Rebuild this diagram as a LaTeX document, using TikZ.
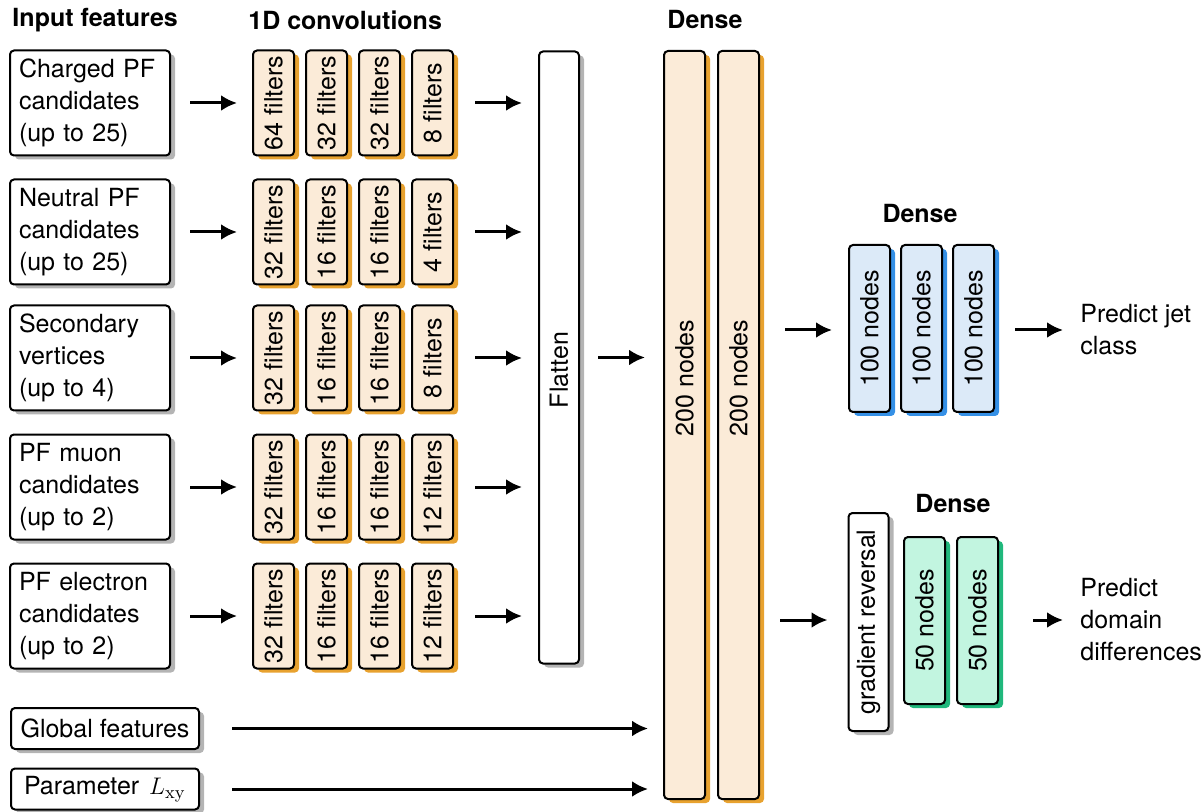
\documentclass[tikz,border=0pt]{standalone}
\usepackage[no-math]{fontspec}
\setmainfont{TeX Gyre Heros}
\usepackage{graphicx}
\usetikzlibrary{arrows.meta, positioning, shadows}

\definecolor{filtfill}{HTML}{FBEBD8}
\definecolor{filtshade}{HTML}{E8A22F}
\definecolor{bluefill}{HTML}{DCEAF8}
\definecolor{blueshade}{HTML}{3590E6}
\definecolor{greenfill}{HTML}{C2F5E0}
\definecolor{greenshade}{HTML}{20B87C}
\definecolor{grayshade}{HTML}{B4B4B4}

\begin{document}
\begin{tikzpicture}[
    x=0.5pt, y=-0.5pt,
    every node/.style={font=\fontsize{12.5}{16}\selectfont},
    box/.style={rectangle, draw=black, line width=1pt, rounded corners=2pt, inner sep=1pt},
    inbox/.style={box, fill=white, drop shadow={shadow xshift=2.5pt, shadow yshift=-2pt, fill=grayshade, opacity=1}, text width=71pt, inner xsep=4.5pt, align=left, minimum height=52.5pt},
    smallin/.style={box, fill=white, drop shadow={shadow xshift=2.5pt, shadow yshift=-2pt, fill=grayshade, opacity=1}, minimum width=94pt, minimum height=20.5pt},
    filt/.style={box, fill=filtfill, drop shadow={shadow xshift=2.5pt, shadow yshift=-2pt, fill=filtshade, opacity=1}, minimum width=20.5pt, minimum height=52.5pt},
    layer/.style={box, fill=white, drop shadow={shadow xshift=2.5pt, shadow yshift=-2pt, fill=grayshade, opacity=1}, minimum width=20pt},
    dense/.style={box, fill=filtfill, drop shadow={shadow xshift=2.5pt, shadow yshift=-2pt, fill=filtshade, opacity=1}, minimum width=20.5pt, minimum height=374pt},
    bluebox/.style={box, fill=bluefill, drop shadow={shadow xshift=2.5pt, shadow yshift=-2pt, fill=blueshade, opacity=1}, minimum width=20.5pt, minimum height=83.5pt},
    greenbox/.style={box, fill=greenfill, drop shadow={shadow xshift=2.5pt, shadow yshift=-2pt, fill=greenshade, opacity=1}, minimum width=20.5pt, minimum height=83.5pt},
    title/.style={font=\fontsize{12.5}{16}\selectfont\bfseries, inner sep=0pt},
    outtext/.style={align=left, inner sep=0pt, anchor=west},
    arr/.style={-{Latex[length=8pt, width=8pt]}, line width=1.5pt}
]
    \useasboundingbox (0,0) rectangle (1204,812);

    % Titles
    \node[title, anchor=west] (tin) at (12,20) {Input features};
    \node[title, anchor=west] (tconv) at (248,20) {1D convolutions};
    \node[title] (tdense) at (705,20) {Dense};
    \node[title] (tdenseb) at (920,214) {Dense};
    \node[title] (tdensec) at (953,503) {Dense};

    % Input features
    \node[inbox] (in1) at (90,103) {Charged PF\\candidates\\(up to 25)};
    \node[inbox] (in2) at (90,232) {Neutral PF\\candidates\\(up to 25)};
    \node[inbox] (in3) at (90,358) {Secondary\\vertices\\(up to 4)};
    \node[inbox] (in4) at (90,487) {PF muon\\candidates\\(up to 2)};
    \node[inbox] (in5) at (90,616) {PF electron\\candidates\\(up to 2)};
    \node[smallin] (glob) at (105,728.5) {Global features};
    \node[smallin] (lxy) at (105,789) {Parameter\hspace{5pt}$L_\mathrm{xy}$};

    % 1D convolutions
    \node[filt] (c11) at (273.5,103) {\rotatebox{90}{64 filters}};
    \node[filt, right=5pt of c11] (c12) {\rotatebox{90}{32 filters}};
    \node[filt, right=5pt of c12] (c13) {\rotatebox{90}{32 filters}};
    \node[filt, right=5pt of c13] (c14) {\rotatebox{90}{8 filters}};

    \node[filt] (c21) at (273.5,232) {\rotatebox{90}{32 filters}};
    \node[filt, right=5pt of c21] (c22) {\rotatebox{90}{16 filters}};
    \node[filt, right=5pt of c22] (c23) {\rotatebox{90}{16 filters}};
    \node[filt, right=5pt of c23] (c24) {\rotatebox{90}{4 filters}};

    \node[filt] (c31) at (273.5,358) {\rotatebox{90}{32 filters}};
    \node[filt, right=5pt of c31] (c32) {\rotatebox{90}{16 filters}};
    \node[filt, right=5pt of c32] (c33) {\rotatebox{90}{16 filters}};
    \node[filt, right=5pt of c33] (c34) {\rotatebox{90}{8 filters}};

    \node[filt] (c41) at (273.5,487) {\rotatebox{90}{32 filters}};
    \node[filt, right=5pt of c41] (c42) {\rotatebox{90}{16 filters}};
    \node[filt, right=5pt of c42] (c43) {\rotatebox{90}{16 filters}};
    \node[filt, right=5pt of c43] (c44) {\rotatebox{90}{12 filters}};

    \node[filt] (c51) at (273.5,616) {\rotatebox{90}{32 filters}};
    \node[filt, right=5pt of c51] (c52) {\rotatebox{90}{16 filters}};
    \node[filt, right=5pt of c52] (c53) {\rotatebox{90}{16 filters}};
    \node[filt, right=5pt of c53] (c54) {\rotatebox{90}{12 filters}};

    % Flatten and dense
    \node[layer, minimum height=306pt] (flat) at (559,357.5) {};
    \node[rotate=90] (flatt) at (559,370) {Flatten};
    \node[dense] (d1) at (684.5,425) {};
    \node[dense] (d2) at (738.5,425) {};
    \node[rotate=90] (d1t) at (684.5,378) {200 nodes};
    \node[rotate=90] (d2t) at (738.5,378) {200 nodes};

    % Jet class branch
    \node[bluebox] (b1) at (869.5,328.5) {\rotatebox{90}{100 nodes}};
    \node[bluebox, right=4.5pt of b1] (b2) {\rotatebox{90}{100 nodes}};
    \node[bluebox, right=4.5pt of b2] (b3) {\rotatebox{90}{100 nodes}};
    \node[outtext] (jet) at (1080,330) {Predict jet\\class};

    % Domain branch
    \node[layer, minimum height=109pt] (grad) at (868.5,622) {\rotatebox{90}{gradient reversal}};
    \node[greenbox] (g1) at (924.5,620.5) {\rotatebox{90}{50 nodes}};
    \node[greenbox, right=5pt of g1] (g2) {\rotatebox{90}{50 nodes}};
    \node[outtext] (dom) at (1080,620) {Predict\\domain\\differences};

    % Connectors
    \draw[arr, shorten <=9.5pt, shorten >=7.5pt] (in1) -- (c11);
    \draw[arr, shorten <=9.5pt, shorten >=7.5pt] (in2) -- (c21);
    \draw[arr, shorten <=9.5pt, shorten >=7.5pt] (in3) -- (c31);
    \draw[arr, shorten <=9.5pt, shorten >=7.5pt] (in4) -- (c41);
    \draw[arr, shorten <=9.5pt, shorten >=7.5pt] (in5) -- (c51);

    \draw[arr, shorten <=10.5pt, shorten >=8pt] (c14.east) -- (c14.east -| flat.west);
    \draw[arr, shorten <=10.5pt, shorten >=8pt] (c24.east) -- (c24.east -| flat.west);
    \draw[arr, shorten <=10.5pt, shorten >=8pt] (c34.east) -- (c34.east -| flat.west);
    \draw[arr, shorten <=10.5pt, shorten >=8pt] (c44.east) -- (c44.east -| flat.west);
    \draw[arr, shorten <=10.5pt, shorten >=8pt] (c54.east) -- (c54.east -| flat.west);

    \draw[arr, shorten <=9pt, shorten >=9pt] (flat.east) -- (flat.east -| d1.west);
    \draw[arr, shorten <=16pt, shorten >=7.5pt] (glob.east) -- (glob.east -| d1.west);
    \draw[arr, shorten <=16pt, shorten >=7.5pt] (lxy.east) -- (lxy.east -| d1.west);

    \draw[arr, shorten <=12.5pt, shorten >=8pt] (d2.east |- jet.west) -- (jet.west -| b1.west);
    \draw[arr, shorten <=10pt, shorten >=8.5pt] (jet.west -| b3.east) -- (jet.west);

    \draw[arr, shorten <=10pt, shorten >=10pt] (d2.east |- dom.west) -- (dom.west -| grad.west);
    \draw[arr, shorten <=17pt, shorten >=8.5pt] (dom.west -| g2.east) -- (dom.west);

\end{tikzpicture}
\end{document}
